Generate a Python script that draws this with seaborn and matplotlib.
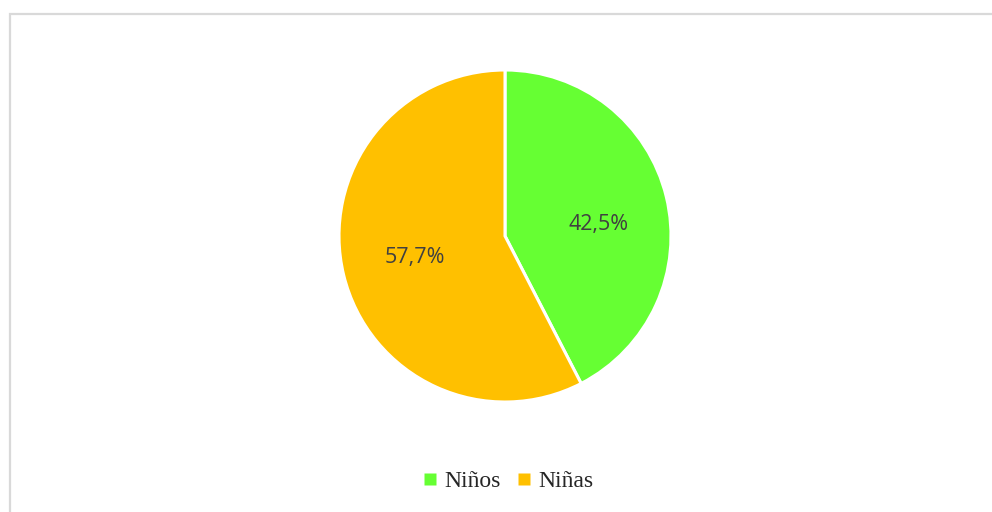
import matplotlib
matplotlib.use("Agg")
import matplotlib.pyplot as plt
import seaborn as sns
from matplotlib.lines import Line2D
from matplotlib.patches import Rectangle

# Data
categories = ["Niños", "Niñas"]
values = [42.5, 57.7]
pct_labels = ["42,5%", "57,7%"]
colors = ["#66FF33", "#FFC000"]

sns.set_theme(style="white")
palette = sns.color_palette(colors)

fig = plt.figure(figsize=(9.92, 5.12), dpi=100)

# pie axes: centre ~ (505, 236) px, radius ~165 px
ax = fig.add_axes([(505 - 166) / 992, (512 - 402) / 512, 332 / 992, 332 / 512])
wedges, texts = ax.pie(
    values,
    colors=palette,
    startangle=90,
    counterclock=False,
    labels=pct_labels,
    labeldistance=0.56,
    radius=1.0,
    wedgeprops=dict(edgecolor="white", linewidth=2.2),
    textprops=dict(color="#404040", fontsize=15.5, family="Open Sans"),
)
for t in texts:
    t.set_ha("center")
    t.set_va("center")
# Excel's "best fit" puts the first label a little lower than the wedge middle
x0, y0 = texts[0].get_position()
texts[0].set_position((x0 + 0.02, y0 - 0.065))
ax.set_xlim(-1.0, 1.0)
ax.set_ylim(-1.0, 1.0)
ax.axis("off")

# legend at the bottom, small square markers
handles = [Line2D([], [], linestyle="none", marker="s", markersize=8,
                  markerfacecolor=c, markeredgecolor="none") for c in palette]
fig.legend(
    handles, categories,
    loc="center", bbox_to_anchor=(509 / 992, 1 - 481 / 512),
    ncol=2, frameon=False,
    handlelength=0.5, handletextpad=0.35,
    columnspacing=0.75,
    prop=dict(family="Liberation Serif", size=17),
)

# light grey chart frame (only top and left edges visible)
fig.add_artist(Rectangle((9.5 / 992, -0.2), 1.2, 1 - 13.5 / 512 + 0.2,
                         transform=fig.transFigure, fill=False,
                         edgecolor="#D9D9D9", linewidth=1.6))

fig.savefig("out.png", dpi=100)
